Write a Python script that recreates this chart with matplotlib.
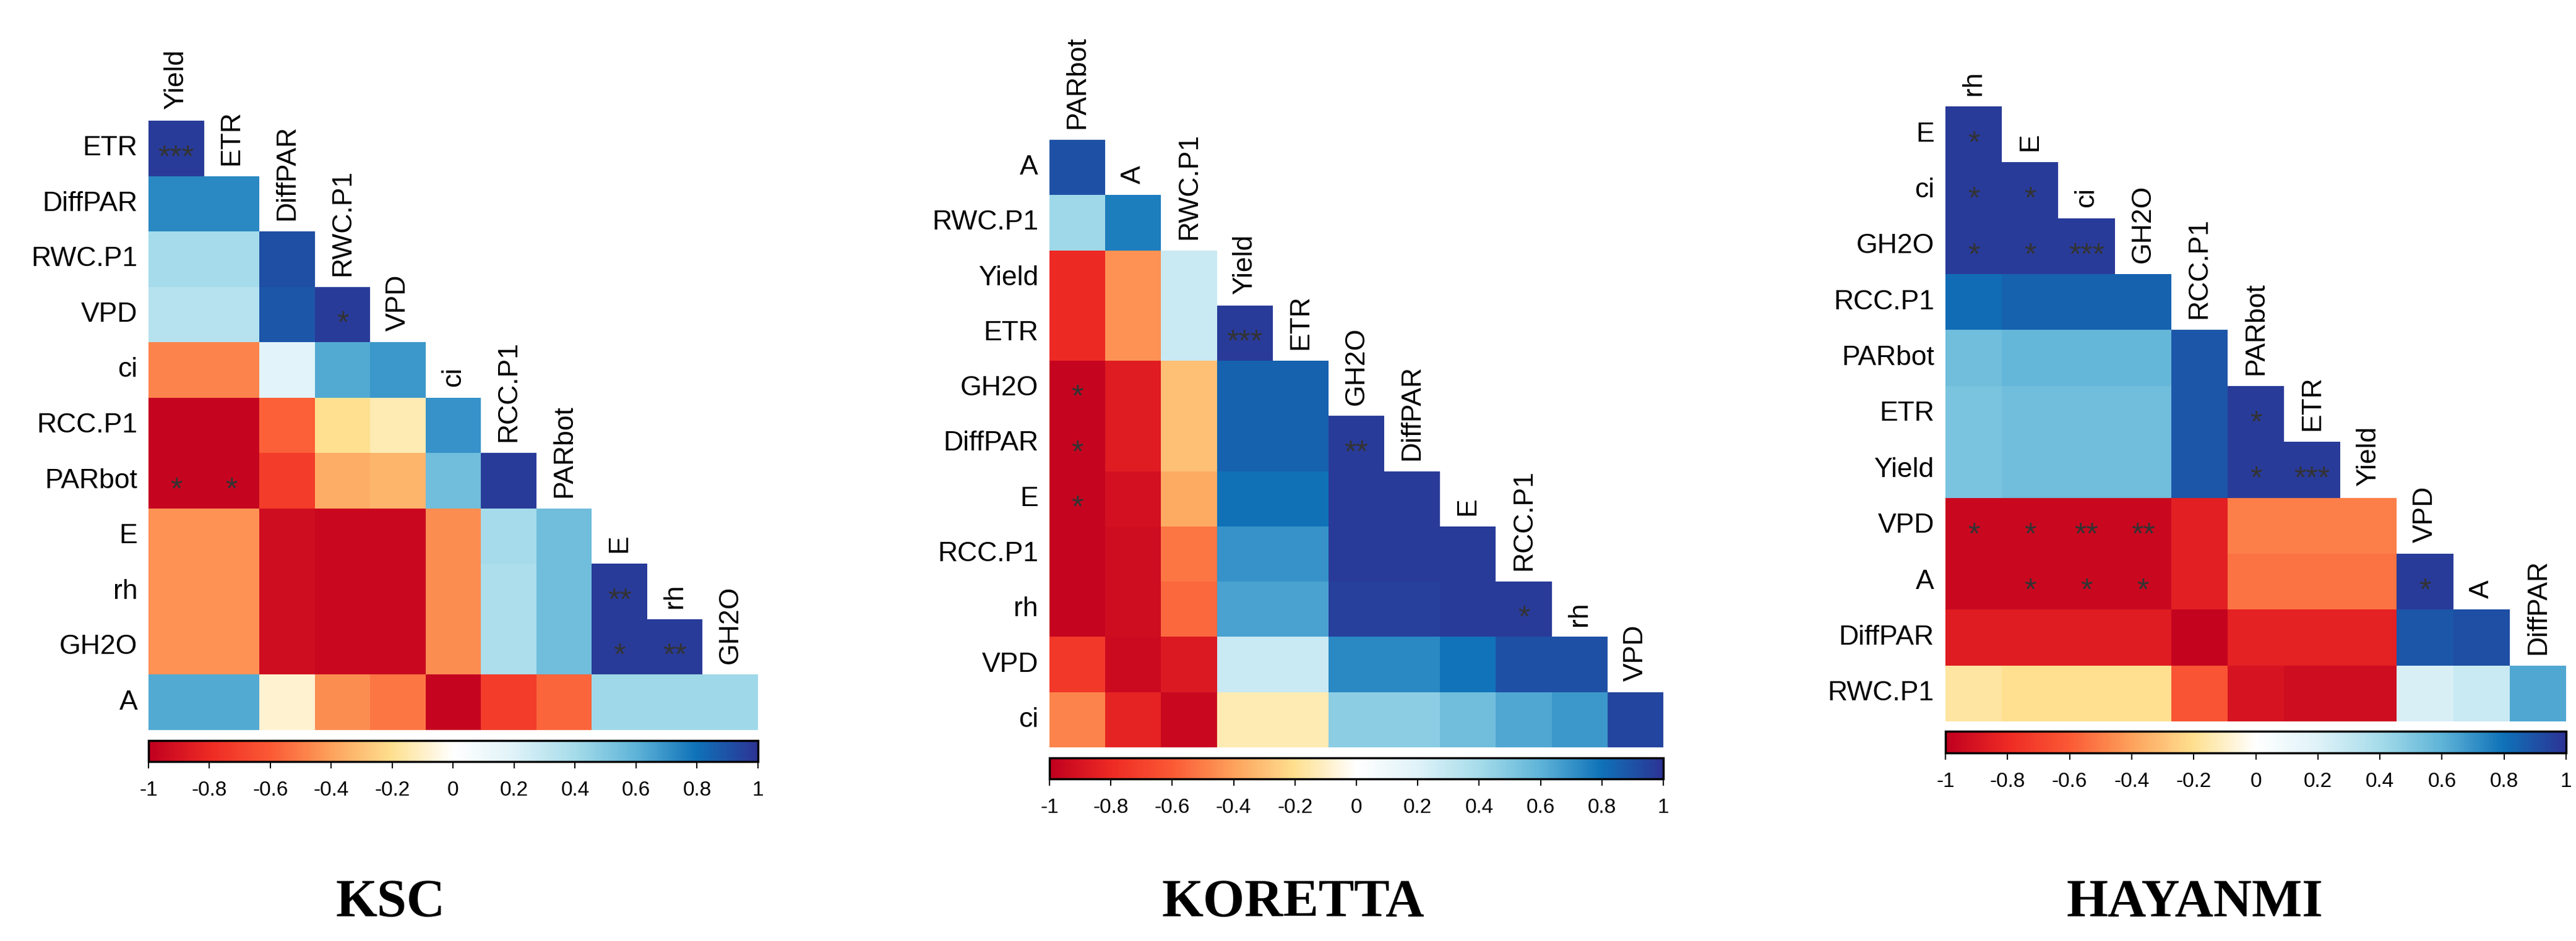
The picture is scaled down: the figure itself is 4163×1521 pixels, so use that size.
import numpy as np
import matplotlib.pyplot as plt
from matplotlib.colors import LinearSegmentedColormap, Normalize
from matplotlib.cm import ScalarMappable

# figure size in pixels
W, H = 4163, 1521

# colour bar ticks
bar_ticks = [-1, -0.8, -0.6, -0.4, -0.2, 0, 0.2, 0.4, 0.6, 0.8, 1]
bar_labels = ['-1', '-0.8', '-0.6', '-0.4', '-0.2', '0', '0.2', '0.4', '0.6', '0.8', '1']

# KSC
ksc_vars = ['Yield', 'ETR', 'DiffPAR', 'RWC.P1', 'VPD', 'ci', 'RCC.P1', 'PARbot', 'E', 'rh', 'GH2O', 'A']
ksc_r = [
    [0.97],
    [0.73, 0.73],
    [0.40, 0.40, 0.91],
    [0.35, 0.35, 0.89, 0.97],
    [-0.48, -0.48, 0.18, 0.63, 0.68],
    [-0.97, -0.97, -0.58, -0.20, -0.14, 0.70],
    [-0.97, -0.97, -0.72, -0.36, -0.34, 0.55, 0.97],
    [-0.44, -0.44, -0.93, -0.96, -0.96, -0.46, 0.40, 0.55],
    [-0.44, -0.44, -0.93, -0.96, -0.96, -0.46, 0.38, 0.55, 0.97],
    [-0.44, -0.44, -0.93, -0.96, -0.96, -0.46, 0.38, 0.55, 0.97, 0.97],
    [0.63, 0.63, -0.08, -0.46, -0.52, -0.97, -0.72, -0.57, 0.42, 0.42, 0.42],
]
ksc_stars = [('ETR', 'Yield', '***'), ('VPD', 'RWC.P1', '*'), ('PARbot', 'Yield', '*'),
             ('PARbot', 'ETR', '*'), ('rh', 'E', '**'), ('GH2O', 'E', '*'), ('GH2O', 'rh', '**')]

# KORETTA
kor_vars = ['PARbot', 'A', 'RWC.P1', 'Yield', 'ETR', 'GH2O', 'DiffPAR', 'E', 'RCC.P1', 'rh', 'VPD', 'ci']
kor_r = [
    [0.90],
    [0.42, 0.76],
    [-0.80, -0.44, 0.28],
    [-0.80, -0.44, 0.28, 0.97],
    [-0.97, -0.86, -0.30, 0.85, 0.85],
    [-0.97, -0.86, -0.30, 0.85, 0.85, 0.97],
    [-0.97, -0.92, -0.37, 0.80, 0.80, 0.97, 0.97],
    [-0.97, -0.93, -0.52, 0.70, 0.70, 0.97, 0.97, 0.97],
    [-0.97, -0.93, -0.56, 0.65, 0.65, 0.96, 0.96, 0.97, 0.97],
    [-0.74, -0.95, -0.88, 0.28, 0.28, 0.73, 0.73, 0.79, 0.90, 0.90],
    [-0.48, -0.83, -0.96, -0.14, -0.14, 0.47, 0.47, 0.55, 0.64, 0.68, 0.94],
]
kor_stars = [('ETR', 'Yield', '***'), ('GH2O', 'PARbot', '*'), ('DiffPAR', 'PARbot', '*'),
             ('DiffPAR', 'GH2O', '**'), ('E', 'PARbot', '*'), ('rh', 'RCC.P1', '*')]

# HAYANMI
hay_vars = ['rh', 'E', 'ci', 'GH2O', 'RCC.P1', 'PARbot', 'ETR', 'Yield', 'VPD', 'A', 'DiffPAR', 'RWC.P1']
hay_r = [
    [0.97],
    [0.97, 0.97],
    [0.97, 0.97, 0.97],
    [0.82, 0.85, 0.85, 0.85],
    [0.55, 0.58, 0.58, 0.58, 0.89],
    [0.52, 0.55, 0.55, 0.55, 0.89, 0.97],
    [0.52, 0.55, 0.55, 0.55, 0.89, 0.97, 0.97],
    [-0.96, -0.96, -0.96, -0.96, -0.85, -0.50, -0.50, -0.50],
    [-0.96, -0.96, -0.96, -0.96, -0.85, -0.53, -0.53, -0.53, 0.97],
    [-0.86, -0.86, -0.86, -0.86, -0.98, -0.84, -0.84, -0.84, 0.89, 0.91],
    [-0.17, -0.20, -0.20, -0.20, -0.62, -0.90, -0.93, -0.93, 0.22, 0.28, 0.64],
]
hay_stars = [('E', 'rh', '*'), ('ci', 'rh', '*'), ('ci', 'E', '*'), ('GH2O', 'rh', '*'),
             ('GH2O', 'E', '*'), ('GH2O', 'ci', '***'), ('ETR', 'PARbot', '*'),
             ('Yield', 'PARbot', '*'), ('Yield', 'ETR', '***'), ('VPD', 'rh', '*'),
             ('VPD', 'E', '*'), ('VPD', 'ci', '**'), ('VPD', 'GH2O', '**'),
             ('A', 'E', '*'), ('A', 'ci', '*'), ('A', 'GH2O', '*'), ('A', 'VPD', '*')]

# red - yellow - white - blue palette like the corrplot one
cmap = LinearSegmentedColormap.from_list('corr', [
    (0.0, '#c0001f'), (0.1, '#ee2a24'), (0.2, '#fb5a35'), (0.3, '#fda25c'),
    (0.4, '#fee090'), (0.5, '#ffffff'), (0.6, '#dff2f8'), (0.7, '#a6dcea'),
    (0.8, '#5fb4d8'), (0.9, '#0f72b8'), (1.0, '#2c3495')])

sans = ['Liberation Sans', 'DejaVu Sans']
narrow = ['Liberation Sans Narrow', 'Liberation Sans', 'DejaVu Sans']


def px_box(x, y, w, h):
    # pixel box (top-left origin) -> figure fraction
    return [x / W, 1 - (y + h) / H, w / W, h / H]


def draw_panel(fig, names, r_rows, stars, box, bar_box, title, title_x):
    n = len(names) - 1
    mat = np.full((n, n), np.nan)
    for i, row in enumerate(r_rows):
        mat[i, :len(row)] = row

    ax = fig.add_axes(px_box(*box))
    ax.pcolormesh(np.ma.masked_invalid(mat), cmap=cmap, vmin=-1, vmax=1)
    ax.set_xlim(0, n)
    ax.set_ylim(n, 0)
    ax.axis('off')

    # row labels on the left, column labels on the diagonal
    for i in range(n):
        ax.text(-0.2, i + 0.5, names[i + 1], ha='right', va='center',
                fontsize=32, family=sans, clip_on=False)
        ax.text(i + 0.5, i - 0.2, names[i], rotation=90, ha='center', va='bottom',
                fontsize=32, family=sans, clip_on=False)

    # significance stars
    for row_name, col_name, s in stars:
        i = names.index(row_name) - 1
        j = names.index(col_name)
        ax.text(j + 0.5, i + 0.68, s, ha='center', va='center', fontsize=36,
                color='#333333', family=sans)

    # colour bar
    cax = fig.add_axes(px_box(*bar_box))
    sm = ScalarMappable(norm=Normalize(-1, 1), cmap=cmap)
    cb = fig.colorbar(sm, cax=cax, orientation='horizontal', ticks=bar_ticks)
    cb.ax.set_xticklabels(bar_labels, fontsize=24, family=narrow)
    cb.outline.set_linewidth(2.5)
    cb.ax.tick_params(length=8, width=1.5, pad=14)

    fig.text(title_x / W, 1 - 1460 / H, title, ha='center', va='center',
             fontsize=62, fontweight='bold', family=['Liberation Serif', 'DejaVu Serif'])


def main():
    fig = plt.figure(figsize=(W / 100, H / 100), dpi=100)

    draw_panel(fig, ksc_vars, ksc_r, ksc_stars,
               (240, 195, 985, 985), (240, 1197, 985, 34), 'KSC', 631)
    draw_panel(fig, kor_vars, kor_r, kor_stars,
               (1696, 226, 992, 982), (1696, 1225, 992, 34), 'KORETTA', 2090)
    draw_panel(fig, hay_vars, hay_r, hay_stars,
               (3144, 172, 1003, 994), (3144, 1182, 1003, 35), 'HAYANMI', 3547)

    fig.savefig('out.png', dpi=100)


if __name__ == "__main__":
    main()
